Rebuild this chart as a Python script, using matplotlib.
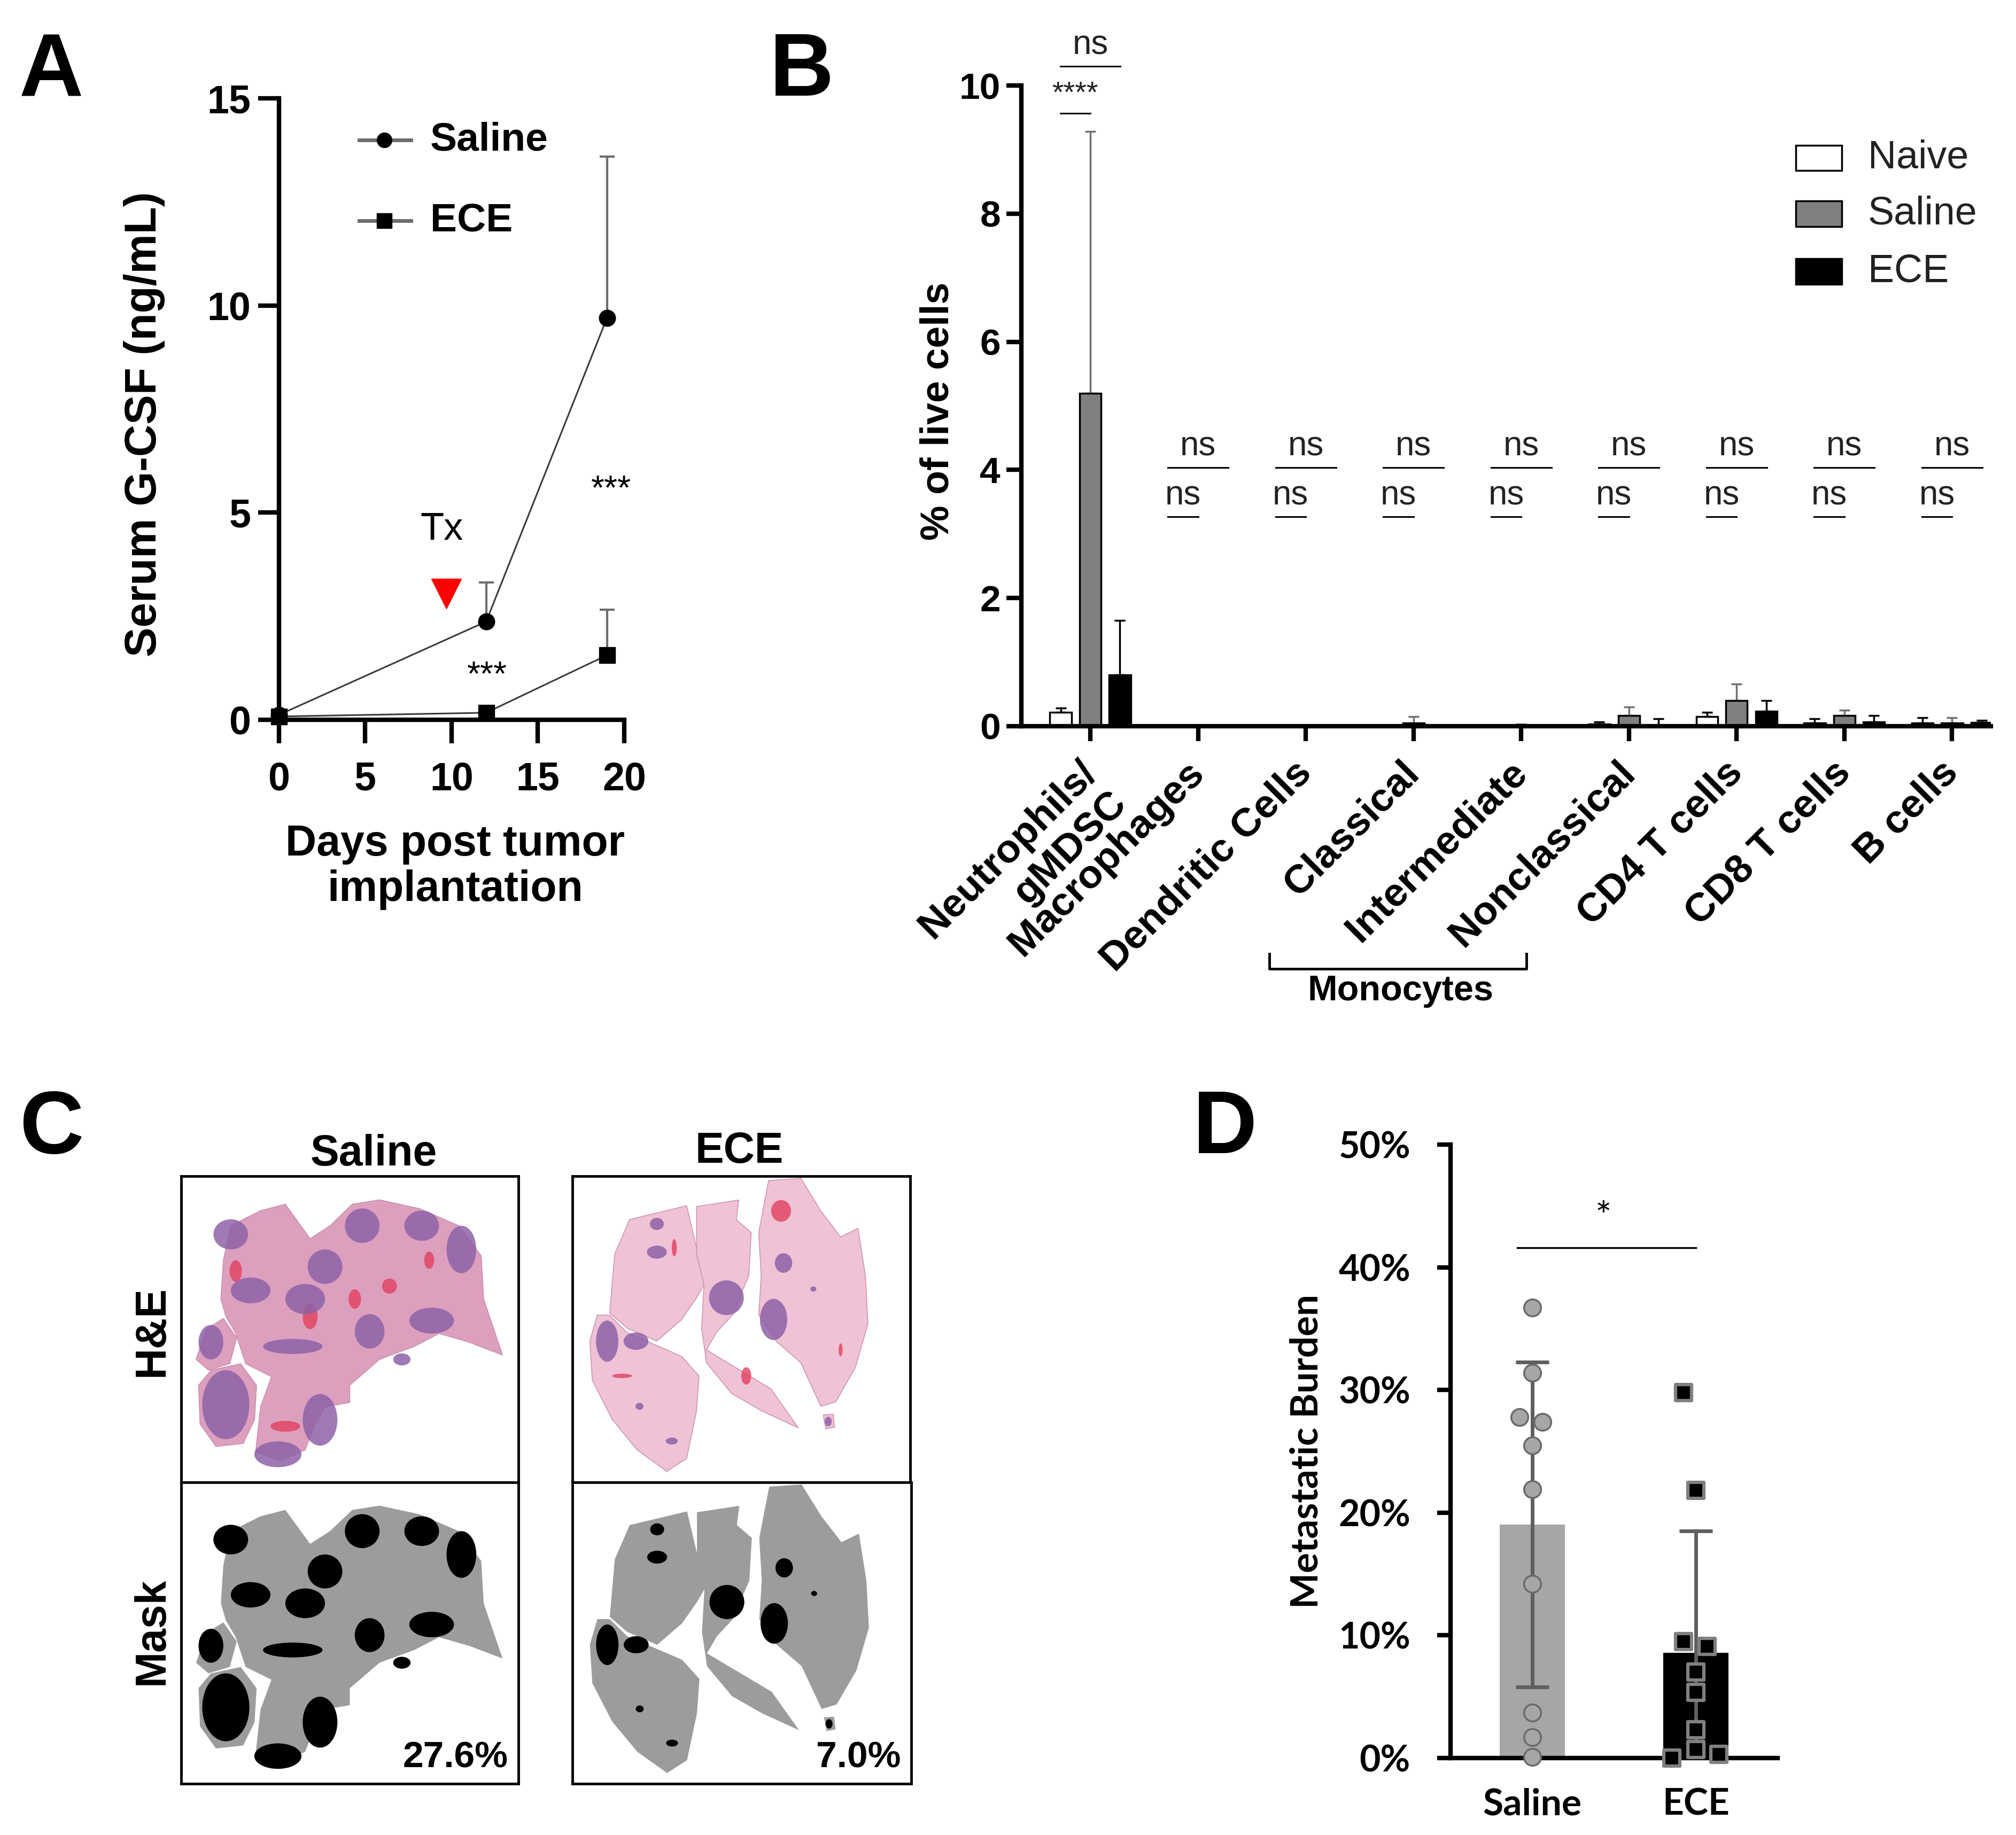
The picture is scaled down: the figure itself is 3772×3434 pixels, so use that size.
import numpy as np
import matplotlib
matplotlib.use('Agg')
import matplotlib.pyplot as plt
from matplotlib.patches import Rectangle, Polygon, Ellipse
from matplotlib.ticker import PercentFormatter
from matplotlib.transforms import ScaledTranslation

plt.rcParams['font.family'] = ['Liberation Sans', 'DejaVu Sans']

# ---------------- Panel A data ----------------
days = [0, 12, 19]
saline_gcsf = [0.12, 2.37, 9.7]
saline_gcsf_err = [0.05, 0.95, 3.9]
ece_gcsf = [0.08, 0.17, 1.56]
ece_gcsf_err = [0.03, 0.06, 1.1]
a_sig = ['***', '***']

# ---------------- Panel B data ----------------
cell_types = ['Neutrophils/\ngMDSC', 'Macrophages', 'Dendritic Cells', 'Classical',
              'Intermediate', 'Nonclassical', 'CD4 T cells', 'CD8 T cells', 'B cells']
naive_pct = [0.22, 0.0, 0.0, 0.0, 0.0, 0.03, 0.15, 0.05, 0.05]
naive_err = [0.06, 0.0, 0.0, 0.0, 0.0, 0.04, 0.07, 0.07, 0.08]
saline_pct = [5.2, 0.0, 0.0, 0.05, 0.01, 0.17, 0.40, 0.17, 0.05]
saline_err = [4.08, 0.0, 0.0, 0.10, 0.02, 0.13, 0.26, 0.08, 0.08]
ece_pct = [0.80, 0.0, 0.0, 0.0, 0.0, 0.02, 0.23, 0.07, 0.06]
ece_err = [0.85, 0.0, 0.0, 0.0, 0.0, 0.10, 0.17, 0.10, 0.03]
b_groups = ['Naive', 'Saline', 'ECE']
sig_upper = ['ns'] * 9
sig_lower = ['****'] + ['ns'] * 8

# ---------------- Panel C labels ----------------
c_cols = ['Saline', 'ECE']
c_rows = ['H&E', 'Mask']
c_burden = ['27.6%', '7.0%']

# ---------------- Panel D data ----------------
d_groups = ['Saline', 'ECE']
saline_burden = [36.7, 31.4, 27.8, 27.4, 25.5, 21.9, 14.2, 3.7, 1.7, 0.1]
ece_burden = [29.8, 21.8, 9.5, 9.1, 7.0, 5.35, 2.3, 0.7, 0.3, 0.0]
d_sig = '*'

# layout-only jitter of scatter points in D
saline_jit = [0, 0, -0.078, 0.063, 0, 0, 0, 0, 0, 0]
ece_jit = [-0.076, 0, -0.076, 0.07, 0, 0, 0, 0, 0.139, -0.146]

W, H = 3773, 3434
fig = plt.figure(figsize=(W / 100, H / 100), dpi=100)


def ax_px(l, t, r, b):
    return fig.add_axes([l / W, 1 - b / H, (r - l) / W, (b - t) / H])


BOLD = dict(fontweight='bold')

# panel letters
for lab, (px, py) in {'A': (36, 58), 'B': (1440, 58), 'C': (36, 2037), 'D': (2232, 2037)}.items():
    fig.text(px / W, 1 - py / H, lab, fontsize=120, fontweight='bold', ha='left', va='top')

# ============ Panel A ============
axA = ax_px(522, 184, 1168, 1347)
axA.plot(days, saline_gcsf, color='#3a3a3a', lw=2.2, zorder=2, clip_on=False)
axA.plot(days, ece_gcsf, color='#3a3a3a', lw=2.2, zorder=2, clip_on=False)
axA.errorbar(days, saline_gcsf, yerr=[[0] * 3, saline_gcsf_err], fmt='none',
             ecolor='#6e6e6e', elinewidth=3, capsize=10, capthick=3, zorder=1, clip_on=False)
axA.errorbar(days, ece_gcsf, yerr=[[0] * 3, ece_gcsf_err], fmt='none',
             ecolor='#6e6e6e', elinewidth=3, capsize=10, capthick=3, zorder=1, clip_on=False)
axA.plot(days, saline_gcsf, 'o', color='black', ms=22, zorder=3, clip_on=False)
axA.plot(days, ece_gcsf, 's', color='black', ms=21, zorder=3, clip_on=False)
axA.set_xlim(0, 20)
axA.set_ylim(0, 15)
axA.set_xticks([0, 5, 10, 15, 20])
axA.set_yticks([0, 5, 10, 15])
for s in ['top', 'right']:
    axA.spines[s].set_visible(False)
for s in ['left', 'bottom']:
    axA.spines[s].set_linewidth(6)
axA.tick_params(axis='y', width=6, length=28, labelsize=53, pad=10)
axA.tick_params(axis='x', width=6, length=32, labelsize=53, pad=24)
for t in axA.get_xticklabels() + axA.get_yticklabels():
    t.set_fontweight('bold')
axA.text(-0.39, 0.476, 'Serum G-CSF (ng/mL)', transform=axA.transAxes, rotation=90,
         ha='center', va='center', fontsize=60, **BOLD)
axA.text(0.51, -0.168, 'Days post tumor\nimplantation', transform=axA.transAxes,
         ha='center', va='top', fontsize=58, linespacing=1.15, **BOLD)
# legend (manual)
for lbl, mk, yy in [('Saline', 'o', 14.0), ('ECE', 's', 12.05)]:
    axA.plot([4.64, 7.64], [yy, yy], color='#6e6e6e', lw=5, clip_on=False)
    axA.plot([6.1], [yy], mk, color='black', ms=20, clip_on=False)
    axA.text(8.76, yy, lbl, fontsize=54, va='center', ha='left', **BOLD)
# Tx annotation
axA.text(9.44, 4.58, 'Tx', fontsize=52, ha='center', va='center')
axA.plot([9.7], [3.05], 'v', color='red', ms=40, mec='red')
axA.text(19.25, 5.55, a_sig[0], fontsize=46, ha='center', va='center')
axA.text(12.06, 1.05, a_sig[1], fontsize=46, ha='center', va='center')

# ============ Panel B ============
axB = ax_px(1911, 160, 3725, 1359)
x = np.arange(len(cell_types))
bw = 0.2
off = 0.275
axB.bar(x - off, naive_pct, bw, color='white', edgecolor='black', lw=2.5, zorder=2)
axB.bar(x, saline_pct, bw, color='#808080', edgecolor='black', lw=2.5, zorder=2)
axB.bar(x + off, ece_pct, bw, color='black', edgecolor='black', lw=2.5, zorder=2)
for xs, vals, errs, col in [(x - off, naive_pct, naive_err, 'black'),
                            (x, saline_pct, saline_err, '#707070'),
                            (x + off, ece_pct, ece_err, 'black')]:
    axB.errorbar(xs, vals, yerr=[[0] * len(vals), errs], fmt='none', ecolor=col,
                 elinewidth=2.5, capsize=7, capthick=2.5, zorder=1)
axB.set_xlim(-0.64, 8.36)
axB.set_ylim(0, 10)
axB.set_yticks([0, 2, 4, 6, 8, 10])
axB.set_xticks(x)
axB.set_xticklabels([''] * len(cell_types))
lab_tr = axB.get_xaxis_transform() + ScaledTranslation(-0.24, -0.52, fig.dpi_scale_trans)
for i, name in enumerate(cell_types):
    axB.text(i, 0, name, transform=lab_tr, rotation=45, ha='right', va='top',
             rotation_mode='anchor', fontsize=54, fontweight='bold')
for s in ['top', 'right']:
    axB.spines[s].set_visible(False)
for s in ['left', 'bottom']:
    axB.spines[s].set_linewidth(6)
axB.tick_params(axis='y', width=6, length=20, labelsize=50, pad=8)
axB.tick_params(axis='x', width=6, length=20, pad=10)
for t in axB.get_yticklabels():
    t.set_fontweight('bold')
axB.text(-0.086, 0.492, '% of live cells', transform=axB.transAxes, rotation=90,
         ha='center', va='center', fontsize=53, **BOLD)
# significance
for i in range(len(cell_types)):
    if i == 0:
        yu, yl = 10.3, 9.57
    else:
        yu, yl = 4.04, 3.27
    axB.plot([i - 0.28, i + 0.28], [yu, yu], color='black', lw=2.2, clip_on=False)
    axB.text(i, yu + 0.08, sig_upper[i], ha='center', va='bottom', fontsize=46,
             color='#222222')
    axB.plot([i - 0.28, i + 0.0], [yl, yl], color='black', lw=2.2, clip_on=False)
    axB.text(i - 0.14, yl + 0.08, sig_lower[i], ha='center', va='bottom',
             fontsize=46 if sig_lower[i] == 'ns' else 40, color='#222222')
# legend (manual)
b_colors = ['white', '#808080', 'black']
for k, (lbl, col) in enumerate(zip(b_groups, b_colors)):
    yc = [0.887, 0.800, 0.710][k]
    axB.add_patch(Rectangle((0.799, yc - 0.02), 0.047, 0.04, transform=axB.transAxes,
                            facecolor=col, edgecolor='black', lw=2.5, clip_on=False))
    axB.text(0.873, yc, lbl, transform=axB.transAxes, fontsize=53, va='center', ha='left',
             color='#222222')
# Monocytes bracket
tb = axB.get_xaxis_transform()
axB.plot([1.66, 1.66, 4.05, 4.05], [-0.355, -0.379, -0.379, -0.355], transform=tb,
         color='black', lw=3.5, clip_on=False)
axB.text(2.88, -0.388, 'Monocytes', transform=tb, ha='center', va='top', fontsize=48, **BOLD)

# ============ Panel C ============
boxes = {
    (0, 0): (339, 2201, 970, 2774),
    (1, 0): (1071, 2201, 1703, 2774),
    (0, 1): (339, 2774, 970, 3338),
    (1, 1): (1071, 2774, 1705, 3338),
}

# lung outlines (approximate tracing, in crop pixel coordinates of each mask box)
sal_box = (40, 765, 720, 1475)
ece_box = (830, 770, 1510, 1475)
sal_lobes = [
    [(75, 1250), (100, 1215), (160, 1200), (192, 1250), (188, 1330), (165, 1385), (110, 1392), (78, 1340)],
    [(70, 1190), (90, 1120), (125, 1095), (152, 1140), (138, 1200), (95, 1215)],
    [(120, 1050), (125, 960), (140, 880), (200, 845), (250, 830), (300, 910), (340, 880), (385, 830),
     (440, 820), (520, 840), (600, 880), (645, 950), (650, 1050), (688, 1180), (620, 1150),
     (560, 1130), (510, 1160), (440, 1190), (380, 1250), (380, 1290), (330, 1300), (310, 1340),
     (290, 1400), (240, 1425), (190, 1405), (200, 1300), (222, 1230), (170, 1200), (150, 1130),
     (130, 1090)],
]
sal_mets = [(140, 900, 70, 70), (180, 1030, 80, 60), (290, 1050, 80, 70), (330, 975, 70, 80),
            (405, 880, 70, 80), (525, 880, 70, 70), (605, 935, 60, 110), (545, 1100, 90, 60),
            (420, 1125, 60, 80), (265, 1160, 120, 35), (130, 1295, 95, 160), (235, 1410, 95, 60),
            (320, 1330, 70, 120), (485, 1190, 35, 28), (100, 1150, 50, 80)]
sal_red = [(300, 1090, 30, 60), (390, 1050, 25, 45), (150, 985, 25, 50), (250, 1345, 60, 25),
           (460, 1020, 30, 35), (540, 960, 20, 40)]
ece_lobes = [
    [(945, 870), (1060, 838), (1085, 960), (1100, 1010), (1080, 1050), (1050, 1100), (1000, 1150),
     (940, 1120), (905, 1085), (915, 950)],
    [(880, 1090), (905, 1090), (940, 1130), (1000, 1160), (1050, 1185), (1085, 1230), (1080, 1310),
     (1060, 1420), (1020, 1450), (960, 1400), (910, 1330), (870, 1240), (865, 1150)],
    [(1080, 840), (1165, 825), (1160, 870), (1190, 900), (1185, 1000), (1170, 1040), (1160, 1080),
     (1120, 1130), (1100, 1170), (1230, 1260), (1285, 1350), (1210, 1310), (1150, 1270),
     (1100, 1200), (1090, 1120), (1095, 1020), (1080, 950)],
    [(1225, 780), (1290, 775), (1330, 850), (1370, 910), (1405, 890), (1420, 1000), (1425, 1110),
     (1400, 1210), (1360, 1290), (1330, 1300), (1290, 1200), (1240, 1150), (1205, 1090),
     (1210, 1000), (1205, 900)],
    [(1335, 1320), (1355, 1318), (1358, 1348), (1340, 1352)],
]
ece_mets = [(1000, 880, 28, 28), (1000, 945, 40, 30), (1140, 1050, 70, 80), (1235, 1100, 55, 95),
            (1255, 970, 35, 45), (900, 1150, 45, 95), (958, 1150, 50, 40), (965, 1300, 16, 16),
            (1030, 1380, 24, 16), (1345, 1335, 14, 22), (1315, 1030, 12, 12)]
ece_red = [(1250, 850, 40, 50), (1035, 935, 10, 40), (1180, 1230, 20, 40), (930, 1230, 40, 10),
           (1370, 1170, 8, 30)]


def norm_pts(pts, box):
    x0, y0, x1, y1 = box
    return [((px - x0) / (x1 - x0), 1 - (py - y0) / (y1 - y0)) for px, py in pts]


def norm_met(m, box):
    x0, y0, x1, y1 = box
    cx, cy, w, h = m
    return ((cx - x0) / (x1 - x0), 1 - (cy - y0) / (y1 - y0)), w / (x1 - x0), h / (y1 - y0)


shapes = {0: (sal_lobes, sal_mets, sal_red, sal_box), 1: (ece_lobes, ece_mets, ece_red, ece_box)}
he_fill = {0: '#dca0be', 1: '#efc2d5'}
for (ci, ri), (l, t, r, b) in boxes.items():
    ax = ax_px(l, t, r, b)
    ax.set_xlim(0, 1)
    ax.set_ylim(0, 1)
    ax.set_xticks([])
    ax.set_yticks([])
    for s in ax.spines.values():
        s.set_linewidth(3.5)
    lobes, mets, reds, box = shapes[ci]
    for lobe in lobes:
        fc = '#9c9c9c' if ri == 1 else he_fill[ci]
        ax.add_patch(Polygon(norm_pts(lobe, box), closed=True, facecolor=fc,
                             edgecolor='#c98aab' if ri == 0 else 'none', lw=1))
    if ri == 0:
        for m in reds:
            c, w, h = norm_met(m, box)
            ax.add_patch(Ellipse(c, w, h, facecolor='#e2405e', edgecolor='none', alpha=0.8))
    for m in mets:
        c, w, h = norm_met(m, box)
        if ri == 1:
            ax.add_patch(Ellipse(c, w, h, facecolor='black', edgecolor='none'))
        else:
            ax.add_patch(Ellipse(c, w, h, facecolor='#8e62a8', edgecolor='none', alpha=0.85))
    if ri == 1:
        ax.text(0.97, 0.03, c_burden[ci], transform=ax.transAxes, ha='right', va='bottom',
                fontsize=50, fontweight='bold',
                family=['Liberation Sans Narrow', 'Liberation Sans', 'DejaVu Sans'])
fig.text(699 / W, 1 - 2160 / H, c_cols[0], ha='center', va='center', fontsize=58, **BOLD)
fig.text(1383 / W, 1 - 2155 / H, c_cols[1], ha='center', va='center', fontsize=58, **BOLD)
fig.text(285 / W, 1 - 2491 / H, c_rows[0], ha='center', va='center', rotation=90, fontsize=58, **BOLD)
fig.text(285 / W, 1 - 3052 / H, c_rows[1], ha='center', va='center', rotation=90, fontsize=58, **BOLD)

# ============ Panel D ============
dfont = ['Lato', 'Liberation Sans', 'DejaVu Sans']
axD = ax_px(2714, 2142, 3326, 3290)
means = [np.mean(saline_burden), np.mean(ece_burden)]
sds = [np.std(saline_burden, ddof=1), np.std(ece_burden, ddof=1)]
axD.bar([0, 1], means, 0.4, color=['#a6a6a6', 'black'], zorder=1)
axD.errorbar([0, 1], means, yerr=sds, fmt='none', ecolor='#5f5f5f', elinewidth=5,
             capsize=22, capthick=5, zorder=2)
axD.scatter(np.array(saline_jit) + 0, saline_burden, s=520, marker='o', facecolor='#a6a6a6',
            edgecolor='#6a6a6a', linewidths=2.5, zorder=3, clip_on=False)
axD.scatter(np.array(ece_jit) + 1, ece_burden, s=480, marker='s', facecolor='black',
            edgecolor='#808080', linewidths=4.5, zorder=3, clip_on=False)
axD.set_xlim(-0.5, 1.5)
axD.set_ylim(0, 50)
axD.set_yticks([0, 10, 20, 30, 40, 50])
axD.yaxis.set_major_formatter(PercentFormatter(decimals=0))
axD.set_xticks([0, 1])
axD.set_xticklabels(d_groups)
for s in ['top', 'right']:
    axD.spines[s].set_visible(False)
for s in ['left', 'bottom']:
    axD.spines[s].set_linewidth(6)
axD.tick_params(axis='y', width=6, length=18, labelsize=49, pad=36)
axD.tick_params(axis='x', length=0, labelsize=50, pad=40)
for t in axD.get_xticklabels() + axD.get_yticklabels():
    t.set_fontweight('bold')
    t.set_family(dfont)
axD.text(-0.44, 0.5, 'Metastatic Burden', transform=axD.transAxes, rotation=90,
         ha='center', va='center', fontsize=51, fontweight='bold', family=dfont)
axD.plot([-0.09, 1.0], [41.6, 41.6], color='black', lw=2.5)
axD.text(0.433, 42.6, d_sig, ha='center', va='bottom', fontsize=52, family=dfont)

fig.savefig('out.png', dpi=100)
